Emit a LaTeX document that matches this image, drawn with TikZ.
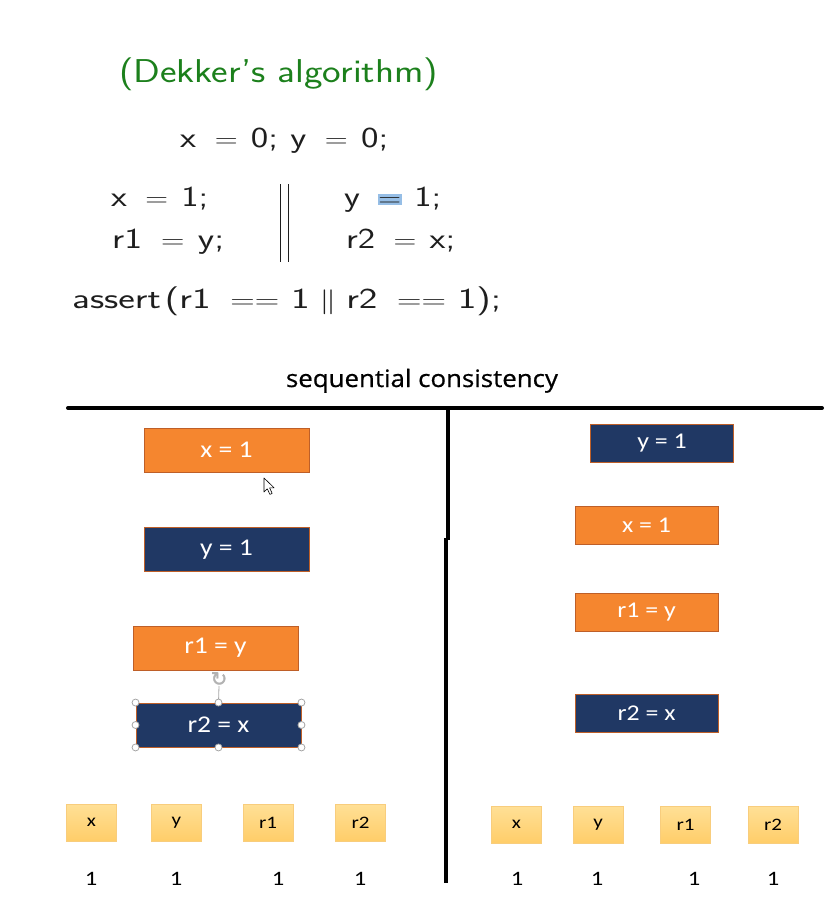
\documentclass[tikz,border=0pt]{standalone}
\usepackage{fontspec}
\usetikzlibrary{arrows.meta}
\newfontfamily\calibri{Carlito}
\newfontfamily\segoe{Open Sans}[FakeBold=0.6]
\newfontfamily\symfont{DejaVu Sans}[FakeBold=1.5]
\definecolor{dkgreen}{RGB}{28,128,28}
\definecolor{opor}{RGB}{245,134,47}
\definecolor{opnavy}{RGB}{32,56,100}
\definecolor{opedge}{RGB}{190,95,40}
\definecolor{cellfillA}{RGB}{255,224,150}
\definecolor{cellfillB}{RGB}{255,205,105}
\definecolor{celledge}{RGB}{248,205,125}
\definecolor{hilite}{RGB}{150,190,230}
\definecolor{codeink}{RGB}{30,30,30}
\newsavebox\fitbox
\newcommand\fitto[2]{\sbox\fitbox{#2}\pgfmathsetmacro\fitsx{#1/\the\wd\fitbox}\scalebox{\fitsx}[1]{\usebox\fitbox}}
\newcommand\wide[2]{\scalebox{#1}[1]{#2}}
\newcommand\eqg{\hspace{.5em}$=$\hspace{.36em}}
\newcommand\eqeqg{\hspace{.5em}$==$\hspace{.3em}}
\tikzset{
  codeline/.style={anchor=base west, inner sep=0pt, text=codeink, font=\sffamily\fontsize{29}{34}\selectfont},
  opbox/.style={rectangle, draw=opedge, line width=0.9pt, inner sep=0pt, text=white},
  orangebox/.style={opbox, fill=opor},
  navybox/.style={opbox, fill=opnavy},
  bigop/.style={minimum width=165pt, minimum height=44pt, font=\calibri\fontsize{24}{28}\selectfont},
  smallop/.style={minimum width=143pt, minimum height=38pt, font=\calibri\fontsize{22.5}{26}\selectfont},
  cell/.style={rectangle, draw=celledge, line width=0.8pt, top color=cellfillA, bottom color=cellfillB, minimum width=50pt, minimum height=37pt, inner sep=0pt, font=\calibri\fontsize{17.5}{20}\selectfont, text=black},
  val/.style={inner sep=0pt, font=\calibri\fontsize{20.5}{24}\selectfont, text=black},
  handle/.style={circle, draw=gray!70, fill=white, line width=0.8pt, minimum size=7pt, inner sep=0pt},
  rule/.style={line width=4pt, black}
}
\begin{document}
\begin{tikzpicture}[x=1pt,y=-1pt]
\useasboundingbox (0,0) rectangle (834,915);

% ---- code slide ----
\node[anchor=base west, inner sep=0pt, text=dkgreen, font=\sffamily\fontsize{33}{40}\selectfont] (title) at (119,83) {\fitto{319}{(Dekker's algorithm)}};
\node[codeline] (init) at (180,147) {\fitto{208}{x\eqg 0;\hspace{.33em}y\eqg 0;}};
\node[codeline] (a1) at (111,206) {\fitto{97}{x\eqg 1;}};
\node[codeline] (a2) at (112,248) {\fitto{112}{r1\eqg y;}};
\fill[hilite] (378,194) rectangle (402,205);
\node[codeline] (b1) at (344,206) {\fitto{97}{y\eqg 1;}};
\node[codeline] (b2) at (346,248) {\fitto{109}{r2\eqg x;}};
\draw[codeink, line width=1.3pt] (280.5,184) -- (280.5,262) (288.3,184) -- (288.3,262);
\node[codeline] (assert) at (72,308) {\fitto{429}{assert\hspace{.1em}(r1\eqeqg 1\hspace{.25em}$\|$\hspace{.25em}r2\eqeqg 1);}};

% ---- heading and rules ----
\node[anchor=base, inner sep=0pt, font=\segoe\fontsize{24}{28}\selectfont] (seq) at (422,387) {\fitto{272}{sequential consistency}};
\draw[rule, line cap=round] (68,408) -- (822,408);
\draw[line width=3.6pt] (448,408) -- (448,540);
\draw[line width=3.6pt] (446,538) -- (446,883);

% ---- left order ----
\node[orangebox, bigop] (L1) at (226.5,450) {\wide{1.15}{x = 1}};
\node[navybox, bigop] (L2) at (226.5,549.5) {\wide{1.15}{y = 1}};
\node[orangebox, bigop] (L3) at (215.5,648) {\wide{1.15}{r1 = y}};
\node[navybox, bigop] (L4) at (218.5,725) {\wide{1.15}{r2 = x}};
% selection handles
\node[inner sep=0pt, text=gray!60, font=\symfont\fontsize{20}{20}\selectfont] (rot) at (219,679) {↻};
\draw[gray!70, line width=0.8pt] (L4.north) -- (rot.south);
\foreach \a in {north west,north,north east,east,south east,south,south west,west}
  \node[handle] at (L4.\a) {};
% mouse pointer
\draw[black, fill=white, line width=0.6pt, line join=round]
  (264,478) -- ++(0,14) -- ++(3.3,-3.2) -- ++(2.6,5.6) -- ++(2.3,-1) -- ++(-2.6,-5.5) -- ++(4.6,0) -- cycle;

% ---- right order ----
\node[navybox, smallop] (R1) at (662,443) {\wide{1.15}{y = 1}};
\node[orangebox, smallop] (R2) at (646.5,525) {\wide{1.15}{x = 1}};
\node[orangebox, smallop] (R3) at (646.5,612) {\wide{1.15}{r1 = y}};
\node[navybox, smallop] (R4) at (646.5,713) {\wide{1.15}{r2 = x}};

% ---- result cells ----
\node[cell] (lx) at (91.5,822.5) {\wide{1.2}{x}};
\node[cell] (ly) at (176.5,822.5) {\wide{1.2}{y}};
\node[cell] (lr1) at (268,822.5) {\wide{1.2}{r1}};
\node[cell] (lr2) at (360.5,822.5) {\wide{1.2}{r2}};
\node[cell] (rx) at (516.5,824.5) {\wide{1.2}{x}};
\node[cell] (ry) at (598,824.5) {\wide{1.2}{y}};
\node[cell] (rr1) at (685.5,824.5) {\wide{1.2}{r1}};
\node[cell] (rr2) at (773,824.5) {\wide{1.2}{r2}};

\node[val] (vlx) at (91,879) {\wide{1.2}{1}};
\node[val] (vly) at (176,879) {\wide{1.2}{1}};
\node[val] (vlr1) at (278,879) {\wide{1.2}{1}};
\node[val] (vlr2) at (360,879) {\wide{1.2}{1}};
\node[val] (vrx) at (517,879) {\wide{1.2}{1}};
\node[val] (vry) at (597,879) {\wide{1.2}{1}};
\node[val] (vrr1) at (694,879) {\wide{1.2}{1}};
\node[val] (vrr2) at (773,879) {\wide{1.2}{1}};
\end{tikzpicture}
\end{document}
